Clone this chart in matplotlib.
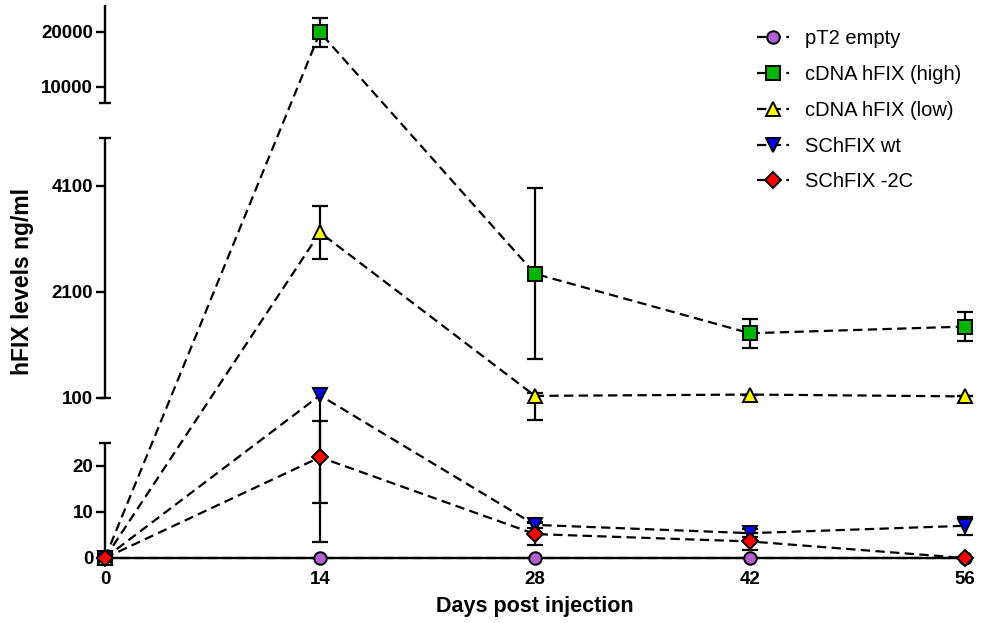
import numpy as np
import matplotlib
matplotlib.use("Agg")
import matplotlib.pyplot as plt

plt.rcParams["font.family"] = ["Liberation Sans", "DejaVu Sans"]

# ---- data -------------------------------------------------------------
days = [0, 14, 28, 42, 56]
series_names = ["pT2 empty", "cDNA hFIX (high)", "cDNA hFIX (low)",
                "SChFIX wt", "SChFIX -2C"]

pt2_empty = [0, 0, 0, 0, 0]
pt2_empty_sem = [0, 0, 0, 0, 0]

cdna_high = [0, 19900, 2440, 1320, 1445]
cdna_high_sem = [0, 2700, 1610, 275, 267]

cdna_low = [0, 3220, 140, 165, 130]
cdna_low_sem = [0, 500, 50, 0, 0]

schfix_wt = [0, 150, 7.2, 5.4, 7.0]
schfix_wt_sem = [0, 146.6, 0.7, 0.8, 2.0]

schfix_2c = [0, 21.9, 5.2, 3.6, 0]
schfix_2c_sem = [0, 10, 2.4, 1.9, 0]

y_ticks = [0, 10, 20, 100, 2100, 4100, 10000, 20000]
x_ticks = [0, 14, 28, 42, 56]

# segmented y axis: (low, high) of each drawn segment
segments = [(0, 25), (100, 5000), (7000, 25000)]

# ---- segmented scale ----------------------------------------------------
# values -> vertical position; values falling inside a break sit at its centre
SEG_VALS = np.array([0, 25, 25.0001, 99.9999, 100, 5000, 5000.001, 6999.999,
                     7000, 25000])
SEG_POS = np.array([0, 115, 137.0, 138.0, 160, 420.1, 437.0, 438.0,
                    455, 553.5])


def forward(v):
    return np.interp(v, SEG_VALS, SEG_POS)


def inverse(p):
    return np.interp(p, SEG_POS, SEG_VALS)


W, H = 983, 623
fig = plt.figure(figsize=(W / 100, H / 100), dpi=100)
ax = fig.add_axes([105 / W, 65 / H, 860 / W, 553.5 / H])
ax.set_yscale("function", functions=(forward, inverse))
ax.set_ylim(0, 25000)
ax.set_xlim(0, 56)

styles = [
    dict(marker="o", color="#B35FD1", ms=9),
    dict(marker="s", color="#00B400", ms=9.5),
    dict(marker="^", color="#FFFF00", ms=10),
    dict(marker="v", color="#0000FF", ms=10),
    dict(marker="D", color="#FF0000", ms=8.2),
]
values = [pt2_empty, cdna_high, cdna_low, schfix_wt, schfix_2c]
errors = [pt2_empty_sem, cdna_high_sem, cdna_low_sem, schfix_wt_sem,
          schfix_2c_sem]

for i, (name, vals, errs, st) in enumerate(zip(series_names, values, errors,
                                               styles)):
    ax.errorbar(days, vals, yerr=errs, fmt="none", ecolor="black",
                elinewidth=1.6, capsize=5.5, capthick=1.6, clip_on=False,
                zorder=3 + i * 0.01)
    ax.plot(days, vals, linestyle=(0, (4.2, 2.4)), color="black", lw=1.6,
            marker=st["marker"], ms=st["ms"], mfc=st["color"],
            mec="black", mew=1.4, label=name, clip_on=False,
            zorder=4 + i * 0.01)

# ---- axes decoration ---------------------------------------------------
for side in ["left", "top", "right"]:
    ax.spines[side].set_visible(False)
ax.spines["bottom"].set_linewidth(1.7)
ax.spines["bottom"].set_zorder(3.5)

ytr = ax.get_yaxis_transform()
for lo, hi in segments:
    ax.plot([0, 0], [lo, hi], color="black", lw=1.7, transform=ytr,
            clip_on=False, solid_capstyle="butt", zorder=3.5)
    for end in (lo, hi):
        if end in (0, 25000):
            continue
        ax.plot([0], [end], marker="_", ms=8, mew=1.7, color="black",
                transform=ytr, clip_on=False, zorder=3.5)

ax.set_yticks(y_ticks)
ax.set_yticklabels([str(t) for t in y_ticks])
ax.yaxis.set_minor_locator(matplotlib.ticker.NullLocator())
ax.set_xticks(x_ticks)
ax.set_xticklabels([str(t) for t in x_ticks])

ax.tick_params(axis="y", length=6.5, width=1.7, pad=2, labelsize=13.5)
ax.tick_params(axis="x", length=0, pad=9, labelsize=13.5)
for lab in ax.get_xticklabels() + ax.get_yticklabels():
    lab.set_fontweight("bold")

ax.set_xlabel("Days post injection", fontsize=15.5, fontweight="bold",
              labelpad=6)
ax.set_ylabel("hFIX levels ng/ml", fontsize=16.5, fontweight="bold",
              labelpad=5)

leg = ax.legend(loc="upper left", bbox_to_anchor=(757 / W, 1 - 29.5 / H),
                bbox_transform=fig.transFigure, frameon=False,
                fontsize=14.5, numpoints=1, handlelength=1.6,
                handletextpad=0.8, labelspacing=0.83, borderpad=0,
                borderaxespad=0)

fig.savefig("out.png", dpi=100)
